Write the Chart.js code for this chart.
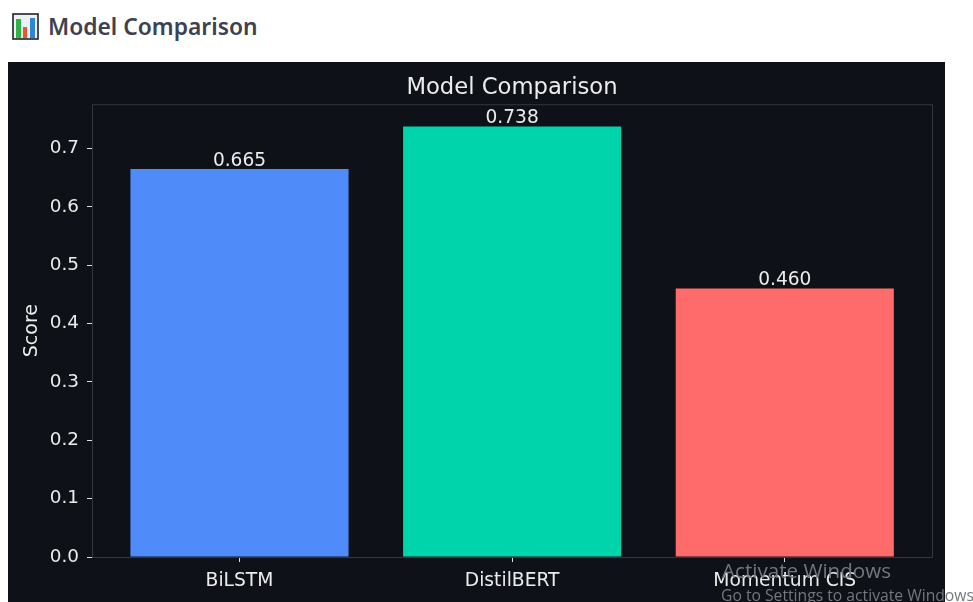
<!DOCTYPE html>
<html>
<head>
<meta charset="utf-8">
<style>
html, body { margin: 0; padding: 0; background: #fff; overflow: hidden; width: 973px; height: 602px; }
#heading { position: absolute; left: 48px; top: 10px; font: 600 22.8px/34px "Noto Sans", sans-serif; color: #3d4150; white-space: nowrap; }
#icon { position: absolute; left: 11px; top: 12px; }
#panel { position: absolute; left: 8px; top: 62px; width: 937px; height: 540px; background: #0e1117; }
#panel canvas { display: block; }
.watermark { position: absolute; color: #74777c; font-family: "Open Sans", sans-serif; white-space: nowrap; }
</style>
</head>
<body>
<svg id="icon" width="29" height="29" viewBox="0 0 29 29">
  <rect x="2" y="2" width="25" height="25" fill="#eef1f4" stroke="#1f2328" stroke-width="1.6"/>
  <rect x="5" y="7" width="5" height="19" fill="#2fb344"/>
  <rect x="12" y="15" width="4" height="11" fill="#e8562a"/>
  <rect x="19" y="6" width="5" height="20" fill="#2f86d6"/>
</svg>
<div id="heading">Model Comparison</div>
<div id="panel"><canvas id="chart" width="937" height="540"></canvas></div>
<div class="watermark" style="left:722px; top:557px; font-size:20.6px; line-height:27px;">Activate Windows</div>
<div class="watermark" style="left:721px; top:585px; font-size:15.7px; line-height:20px;">Go to Settings to activate Windows</div>

<script src="https://cdn.jsdelivr.net/npm/chart.js@4"></script>
<script>
// values
const modelNames = ['BiLSTM', 'DistilBERT', 'Momentum CIS'];
const scores = [0.665, 0.738, 0.460];
const scoreLabels = ['0.665', '0.738', '0.460'];
const barColors = ['#4f8bf9', '#00d4aa', '#ff6b6b'];

const textColor = '#ececec';
const edgeColor = '#33363b';
const fontFamily = '"DejaVu Sans", sans-serif';

// value labels on top of the bars + the box round the plot
const barLabels = {
    id: 'barLabels',
    beforeDatasetsDraw(chart) {
        const ctx = chart.ctx;
        const area = chart.chartArea;
        ctx.save();
        ctx.strokeStyle = edgeColor;
        ctx.lineWidth = 1;
        ctx.strokeRect(area.left + 0.5, area.top + 0.5, area.width, area.height);
        ctx.restore();
    },
    afterDatasetsDraw(chart) {
        const ctx = chart.ctx;
        ctx.save();
        ctx.fillStyle = textColor;
        ctx.font = '18.6px ' + fontFamily;
        ctx.textAlign = 'center';
        ctx.textBaseline = 'bottom';
        chart.getDatasetMeta(0).data.forEach((bar, i) => {
            ctx.fillText(scoreLabels[i], bar.x, bar.y + 1);
        });
        ctx.restore();
    }
};

new Chart(document.getElementById('chart'), {
    type: 'bar',
    data: {
        datasets: [{
            data: scores.map((s, i) => ({ x: i, y: s })),
            backgroundColor: barColors,
            categoryPercentage: 1,
            barPercentage: 0.8
        }]
    },
    plugins: [barLabels],
    options: {
        responsive: false,
        animation: false,
        layout: { padding: { right: 13 } },
        plugins: {
            legend: { display: false },
            tooltip: { enabled: false },
            title: {
                display: true,
                fullSize: false,
                text: 'Model Comparison',
                color: textColor,
                font: { family: fontFamily, size: 22.7, weight: 'normal' },
                padding: { top: 12, bottom: 3 }
            }
        },
        scales: {
            x: {
                type: 'linear',
                offset: false,
                min: -0.541,
                max: 2.54,
                afterFit(scale) { scale.height = 45; },
                afterBuildTicks(scale) {
                    scale.ticks = modelNames.map((n, i) => ({ value: i }));
                },
                border: { display: false },
                grid: { offset: false, drawOnChartArea: false, color: '#e0e0e0', tickLength: 5 },
                ticks: {
                    color: textColor,
                    padding: 8,
                    maxRotation: 0,
                    font: { family: fontFamily, size: 18.7 },
                    callback: v => modelNames[v]
                }
            },
            y: {
                min: 0,
                max: 0.776,
                afterFit(scale) { scale.width = 84; },
                border: { display: false },
                grid: { drawOnChartArea: false, color: '#e0e0e0', tickLength: 5 },
                title: {
                    display: true,
                    text: 'Score',
                    color: textColor,
                    font: { family: fontFamily, size: 19 },
                    padding: { top: 13, bottom: 0 }
                },
                ticks: {
                    color: textColor,
                    stepSize: 0.1,
                    includeBounds: false,
                    padding: 8,
                    font: { family: fontFamily, size: 18.4 },
                    callback: v => v.toFixed(1)
                }
            }
        }
    }
});
</script>
</body>
</html>
